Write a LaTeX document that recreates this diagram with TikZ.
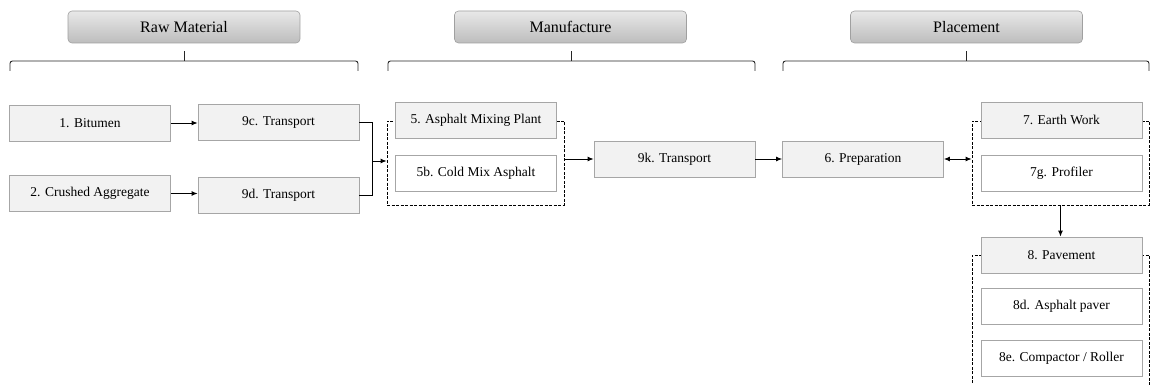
\documentclass[tikz,border=0pt]{standalone}
\usepackage{fontspec}
\setmainfont{Liberation Serif}
\usetikzlibrary{arrows.meta,backgrounds}
\definecolor{boxfill}{HTML}{F2F2F2}
\definecolor{boxline}{HTML}{A6A6A6}
\definecolor{headtop}{HTML}{E8E8E8}
\definecolor{headbot}{HTML}{BDBDBD}
\definecolor{headline}{HTML}{A0A0A0}
\begin{document}
\begin{tikzpicture}[x=1pt,y=-1pt,
  stepbox/.style={draw=boxline, line width=0.8pt, fill=boxfill, minimum width=161pt,
    minimum height=36pt, inner sep=0pt, font=\fontsize{13.5}{16}\selectfont},
  subbox/.style={stepbox, fill=white},
  header/.style={draw=headline, line width=0.6pt, rounded corners=4pt, top color=headtop,
    bottom color=headbot, minimum width=232pt, minimum height=32pt, inner sep=0pt,
    font=\fontsize{16}{19}\selectfont},
  groupbox/.style={draw=black, line width=0.8pt, dash pattern=on 3pt off 1.5pt,
    inner sep=0pt, minimum width=177pt, minimum height=84pt},
  bracket/.style={draw=black!85, line width=0.9pt, rounded corners=2.5pt},
  link/.style={draw=black, line width=0.9pt},
  flow/.style={link, -{Latex[length=6pt,width=5pt]}},
  twoway/.style={link, {Latex[length=6pt,width=5pt]}-{Latex[length=6pt,width=5pt]}},
]
\useasboundingbox (0,0) rectangle (1152,385);

% phase headers
\node[header] (rm) at (184,27)   {Raw Material};
\node[header] (mf) at (570.5,27) {Manufacture};
\node[header] (pl) at (966.5,27) {Placement};

% brackets under the headers
\draw[bracket] (10,71) -- (10,61) -- (358,61) -- (358,71);
\draw[bracket] (184,61) -- (184,51);
\draw[bracket] (388,71) -- (388,61) -- (755,61) -- (755,71);
\draw[bracket] (571.5,61) -- (571.5,51);
\draw[bracket] (783,71) -- (783,61) -- (1149,61) -- (1149,71);
\draw[bracket] (966,61) -- (966,51);

% raw material
\node[stepbox] (b1)  at (90,123)    {1. Bitumen};
\node[stepbox] (t9c) at (278.5,122.5) {9c. Transport};
\node[stepbox] (b2)  at (90,193.5)  {2. Crushed Aggregate};
\node[stepbox] (t9d) at (278.5,195) {9d. Transport};

% manufacture
\node[stepbox] (m5)  at (476,120) {5. Asphalt Mixing Plant};
\node[subbox]  (m5b) at (476,173) {5b. Cold Mix Asphalt};
\node[stepbox] (t9k) at (674.5,159) {9k. Transport};

% placement
\node[stepbox] (p6)  at (863,159)    {6. Preparation};
\node[stepbox] (e7)  at (1061.5,120) {7. Earth Work};
\node[subbox]  (e7g) at (1061.5,173) {7g. Profiler};
\node[stepbox] (v8)  at (1061.5,255) {8. Pavement};
\node[subbox]  (v8d) at (1061.5,306) {8d. Asphalt paver};
\node[subbox]  (v8e) at (1061.5,358) {8e. Compactor / Roller};

% dashed groups behind the boxes
\begin{scope}[on background layer]
  \node[groupbox] (g5) at (475.5,163)  {};
  \node[groupbox] (g7) at (1060.5,163) {};
  \draw[groupbox] (972,392) -- (972,255) -- (1149,255) -- (1149,392);
\end{scope}

% connectors
\draw[flow] (b1.east) -- (b1.east -| t9c.west);
\draw[flow] (b2.east) -- (b2.east -| t9d.west);
\coordinate (j) at (372,161);
\draw[link] (t9c.east) -| (j);
\draw[link] (t9d.east) -| (j);
\draw[flow] (j) -- (j -| g5.west);
\draw[flow] (g5.east |- t9k) -- (t9k.west);
\draw[flow] (t9k) -- (p6);
\draw[twoway] (p6.east) -- (g7.west |- p6);
\draw[flow] (g7.south) -- (g7.south |- v8.north);
\end{tikzpicture}
\end{document}
